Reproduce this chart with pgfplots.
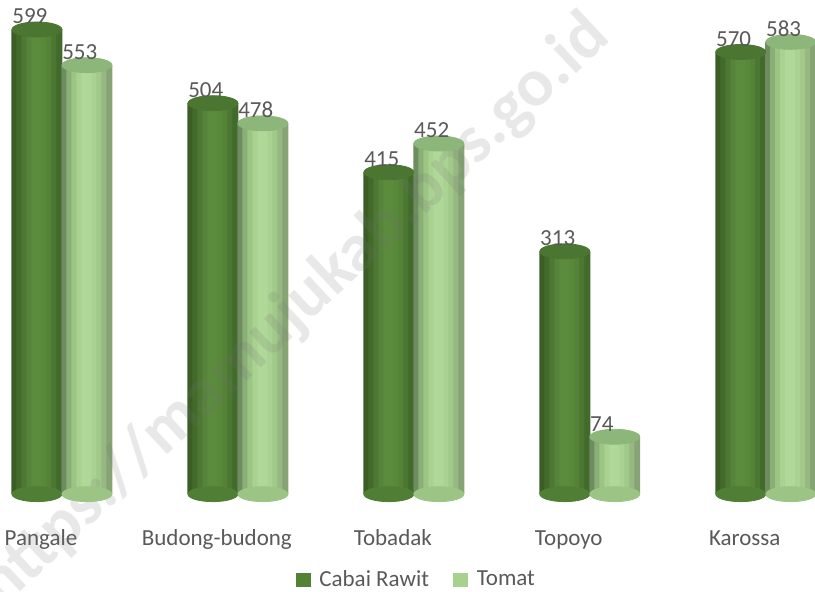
\documentclass[border=0pt]{standalone}
\usepackage{fontspec}
\setmainfont{Carlito}
\usepackage{pgfplots}
\usepackage{pgfplotstable}
\pgfplotsset{compat=1.18}

% cylinder shading, left to right, in ten stripes
\definecolor{dk0}{HTML}{3A5E26}\definecolor{dk1}{HTML}{43692B}
\definecolor{dk2}{HTML}{4D7733}\definecolor{dk3}{HTML}{56843A}
\definecolor{dk4}{HTML}{5B8C3D}\definecolor{dk5}{HTML}{5B8C3D}
\definecolor{dk6}{HTML}{58883A}\definecolor{dk7}{HTML}{548237}
\definecolor{dk8}{HTML}{4C7732}\definecolor{dk9}{HTML}{416A2B}
\definecolor{lt0}{HTML}{6F8B60}\definecolor{lt1}{HTML}{8AAF75}
\definecolor{lt2}{HTML}{9CC485}\definecolor{lt3}{HTML}{A9D190}
\definecolor{lt4}{HTML}{B0D899}\definecolor{lt5}{HTML}{B0D899}
\definecolor{lt6}{HTML}{AAD292}\definecolor{lt7}{HTML}{A2C98A}
\definecolor{lt8}{HTML}{97B882}\definecolor{lt9}{HTML}{86A474}
\definecolor{dkTop}{HTML}{4B7632}
\definecolor{ltTop}{HTML}{8DB67A}
\definecolor{dkBot}{HTML}{4F7E34}
\definecolor{ltBot}{HTML}{9CC485}
\definecolor{dkLeg}{HTML}{548235}
\definecolor{ltLeg}{HTML}{A9D18E}
\definecolor{txt}{HTML}{595959}

% x: group index; dark bar left of it, light bar right of it
\pgfplotstableread{
x cabai tomat
0 599 553
1 504 478
2 415 452
3 313 74
4 570 583
}\datatable

\begin{document}
\begin{tikzpicture}
\begin{axis}[
    x=88pt, y=0.388pt,
    xmin=-0.352, xmax=4.28,
    ymin=-126, ymax=637,
    axis line style={draw=none},
    tick style={draw=none},
    ytick=\empty,
    xtick={0,1,2,3,4},
    xticklabels={Pangale, Budong-budong, Tobadak, Topoyo, Karossa},
    xticklabel style={anchor=base, yshift=23pt, xshift=-10.5pt, text=txt,
        font=\fontsize{11.5}{13}\selectfont},
    /pgf/number format/assume math mode=true,
    clip=false,
    legend columns=2,
    legend style={at={(0.512,0.0203)}, anchor=center, draw=none, fill=none,
        font=\fontsize{11.5}{13}\selectfont, text=txt,
        /tikz/every odd column/.append style={column sep=2.5pt},
        /tikz/every even column/.append style={column sep=10pt}},
    nodes near coords style={anchor=south west, inner sep=0pt, xshift=-12.5pt,
        yshift=2.5pt, text=txt, font=\fontsize{11.5}{13}\selectfont},
]
% legend squares
\addlegendimage{legend image code/.code={\fill[dkLeg] (0pt,-3.5pt) rectangle (7pt,3.5pt);}}
\addlegendimage{legend image code/.code={\fill[ltLeg] (0pt,-3.5pt) rectangle (7pt,3.5pt);}}
\legend{Cabai Rawit, Tomat}

% Cabai Rawit
\addplot[forget plot, only marks, mark=*, color=dkBot, mark size=12.5pt,
    mark options={yscale=0.3}]
    table[x expr=\thisrow{x}-0.142, y expr=0] {\datatable};
\pgfplotsinvokeforeach{0,...,9}{
\addplot[forget plot, ybar, bar width=0.034, draw=none, fill=dk#1]
    table[x expr=\thisrow{x}-0.284+(#1+0.5)*0.0284, y=cabai] {\datatable};
}
\addplot[forget plot, only marks, mark=*, color=dkTop, mark size=12.5pt,
    mark options={yscale=0.3}, nodes near coords]
    table[x expr=\thisrow{x}-0.142, y=cabai] {\datatable};

% Tomat
\addplot[forget plot, only marks, mark=*, color=ltBot, mark size=12.5pt,
    mark options={yscale=0.3}]
    table[x expr=\thisrow{x}+0.142, y expr=0] {\datatable};
\pgfplotsinvokeforeach{0,...,9}{
\addplot[forget plot, ybar, bar width=0.034, draw=none, fill=lt#1]
    table[x expr=\thisrow{x}+(#1+0.5)*0.0284, y=tomat] {\datatable};
}
\addplot[forget plot, only marks, mark=*, color=ltTop, mark size=12.5pt,
    mark options={yscale=0.3}, nodes near coords]
    table[x expr=\thisrow{x}+0.142, y=tomat] {\datatable};

% watermark
\node[rotate=43, text=black!55, opacity=0.16,
    font=\bfseries\fontsize{34}{34}\selectfont]
    at (axis cs:1.324,236) {https://mamujukab.bps.go.id};
\end{axis}
\pgfresetboundingbox
\path[use as bounding box] (current axis.south west) rectangle (current axis.north east);
\end{tikzpicture}
\end{document}
